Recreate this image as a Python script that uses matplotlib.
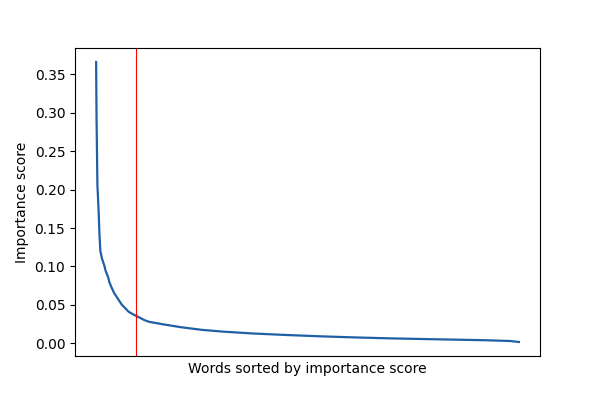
import numpy as np
import matplotlib
matplotlib.use('Agg')
import matplotlib.pyplot as plt

# indices of words (sorted) and their importance scores
word_rank = [0, 1, 2, 3, 4, 6, 8, 10, 14, 20, 22, 29, 31, 37, 43, 49, 55, 61,
             70, 77, 90, 97, 115, 125, 155, 200, 250, 300, 370, 450, 530, 610,
             690, 770, 845, 920, 980, 1000]
score = [0.366, 0.290, 0.250, 0.205, 0.195, 0.170, 0.140, 0.120, 0.110, 0.100,
         0.095, 0.085, 0.080, 0.072, 0.065, 0.060, 0.055, 0.050, 0.045, 0.041,
         0.037, 0.035, 0.030, 0.028, 0.025, 0.021, 0.0175, 0.0152, 0.0128,
         0.0108, 0.0091, 0.0077, 0.0065, 0.0056, 0.0048, 0.0040, 0.0030, 0.0017]
cutoff = 95

fig = plt.figure(figsize=(6, 4), dpi=100)
plt.plot(word_rank, score, color='#1f5fa6', linewidth=1.6)
plt.axvline(cutoff, color='red', linewidth=0.8)
plt.xticks([])
plt.xlabel('Words sorted by importance score')
plt.ylabel('Importance score')
plt.savefig('out.png', dpi=100)
